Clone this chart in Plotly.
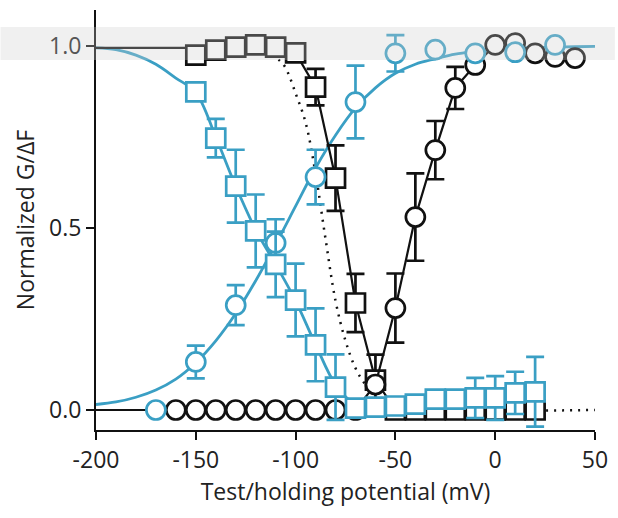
import plotly.graph_objects as go

# ---- measured points (mV, normalized) ----
blue_circ_v = [-170, -150, -130, -110, -90, -70, -50, -30, -10, 10, 30]
blue_circ_g = [0.0, 0.132, 0.288, 0.459, 0.64, 0.846, 0.98, 0.99, 0.98, 0.983, 1.003]
blue_circ_e = [0.0, 0.045, 0.055, 0.065, 0.075, 0.10, 0.05, 0.0, 0.0, 0.0, 0.0]

blue_sq_v = [-150, -140, -130, -120, -110, -100, -90, -80, -70, -60, -50, -40, -30, -20, -10, 0, 10, 20]
blue_sq_g = [0.874, 0.747, 0.615, 0.492, 0.40, 0.302, 0.179, 0.063, 0.005, 0.008, 0.011, 0.016,
             0.03, 0.03, 0.033, 0.033, 0.047, 0.05]
blue_sq_e = [0.0, 0.053, 0.10, 0.10, 0.09, 0.10, 0.10, 0.09, 0.0, 0.0, 0.0, 0.0,
             0.0, 0.0, 0.055, 0.06, 0.058, 0.096]

black_sq_v = [-150, -140, -130, -120, -110, -100, -90, -80, -70, -60, -50, -40, -30, -20, -10, 0, 10, 20]
black_sq_g = [0.975, 0.989, 0.997, 1.003, 0.997, 0.981, 0.887, 0.637, 0.294, 0.082,
              0.0, 0.0, 0.0, 0.0, 0.0, 0.0, 0.0, 0.0]
black_sq_e = [0.0, 0.0, 0.0, 0.0, 0.0, 0.0, 0.05, 0.09, 0.08, 0.07,
              0.0, 0.0, 0.0, 0.0, 0.0, 0.0, 0.0, 0.0]

black_circ_v = [-160, -150, -140, -130, -120, -110, -100, -90, -80, -70, -60, -50, -40, -30, -20,
                -10, 0, 10, 20, 30, 40]
black_circ_g = [0.0, 0.0, 0.0, 0.0, 0.0, 0.0, 0.0, 0.0, 0.0, 0.0, 0.07, 0.28, 0.53, 0.714, 0.885,
                0.948, 1.003, 1.008, 0.98, 0.97, 0.967]
black_circ_e = [0.0, 0.0, 0.0, 0.0, 0.0, 0.0, 0.0, 0.0, 0.0, 0.0, 0.0, 0.095, 0.12, 0.08, 0.058,
                0.0, 0.0, 0.0, 0.0, 0.0, 0.0]

# ---- fitted curves ----
blue_act_fit_v = [-200, -190, -180, -170, -160, -150, -140, -130, -120, -110, -100, -90, -80,
                  -70, -60, -50, -40, -30, -20, -10, 0, 10, 20, 30, 40, 50]
blue_act_fit_g = [0.015, 0.022, 0.035, 0.055, 0.085, 0.13, 0.19, 0.265, 0.355, 0.455, 0.56, 0.665,
                  0.755, 0.83, 0.885, 0.925, 0.95, 0.965, 0.978, 0.985, 0.99, 0.994, 0.996, 0.997,
                  0.998, 0.999]

blue_inact_fit_v = [-200, -190, -180, -170, -160, -150, -140, -130, -120, -110, -100, -90, -80,
                    -70, -60, -50, 20]
blue_inact_fit_g = [0.995, 0.99, 0.975, 0.95, 0.912, 0.872, 0.75, 0.615, 0.495, 0.40, 0.30, 0.18,
                    0.07, 0.015, 0.003, 0.0, 0.0]

black_inact_lead_v = [-200, -150]
black_inact_lead_g = [0.995, 0.995]
black_act_lead_v = [-200, -160]
black_act_lead_g = [0.0, 0.0]

dotted_v = [-112, -108, -105, -100, -95, -90, -85, -80, -75, -70, -65, -60, -55, -50,
            -45, -40, 50]
dotted_g = [0.975, 0.96, 0.94, 0.87, 0.79, 0.65, 0.47, 0.30, 0.19, 0.115, 0.07, 0.045,
            0.025, 0.012, 0.005, 0.0, 0.0]

x_ticks = [-200, -150, -100, -50, 0, 50]
x_tick_labels = ["-200", "-150", "-100", "-50", "0", "50"]
y_ticks = [0.0, 0.5, 1.0]
y_tick_labels = ["0.0", "0.5", "1.0"]

BLUE = "#3a9fc4"
BLACK = "#111111"
FONT = "Open Sans"
MSIZE = 19
LW = 2.7

fig = go.Figure()


def line(v, g, color, dash="solid", shape="linear", width=2.2):
    fig.add_trace(go.Scatter(x=v, y=g, mode="lines", hoverinfo="skip", showlegend=False,
                             line=dict(color=color, width=width, dash=dash, shape=shape)))


def points(v, g, e, color, symbol, with_line=False):
    fig.add_trace(go.Scatter(
        x=v, y=g, mode="lines+markers" if with_line else "markers", showlegend=False,
        line=dict(color=color, width=2.2),
        marker=dict(symbol=symbol, size=MSIZE, color="white", line=dict(color=color, width=LW)),
        error_y=dict(type="data", array=e, visible=True, color=color, thickness=LW, width=9),
    ))


line(dotted_v, dotted_g, BLACK, dash="2px,6px", shape="spline", width=2.5)
line(blue_act_fit_v, blue_act_fit_g, BLUE, shape="spline", width=2.8)
line(blue_inact_fit_v, blue_inact_fit_g, BLUE, shape="spline", width=2.8)
line(black_inact_lead_v, black_inact_lead_g, BLACK)
line(black_act_lead_v, black_act_lead_g, BLACK)

points(black_sq_v, black_sq_g, black_sq_e, BLACK, "square", with_line=True)
points(black_circ_v, black_circ_g, black_circ_e, BLACK, "circle", with_line=True)
points(blue_circ_v, blue_circ_g, blue_circ_e, BLUE, "circle")
points(blue_sq_v, blue_sq_g, blue_sq_e, BLUE, "square")

# light grey band across the top of the figure
plot_top, plot_bot = 10, 430
band_y0, band_y1 = 60, 27
fig.add_shape(type="rect", xref="paper", yref="paper", layer="above",
              x0=-96 / 502, x1=(618 - 96) / 502,
              y0=(plot_bot - band_y0) / (plot_bot - plot_top),
              y1=(plot_bot - band_y1) / (plot_bot - plot_top),
              line=dict(width=0), fillcolor="rgba(205,205,205,0.30)")

axis_common = dict(showline=True, linecolor=BLACK, linewidth=2, ticks="outside", ticklen=8,
                   tickwidth=2, tickcolor=BLACK, showgrid=False, zeroline=False,
                   tickfont=dict(family=FONT, size=23, color="#222"))

fig.update_layout(
    width=618, height=518,
    margin=dict(l=96, r=18, t=10, b=88),
    paper_bgcolor="white", plot_bgcolor="white",
    font=dict(family=FONT, color="#222"),
    xaxis=dict(range=[-200, 50], tickvals=x_ticks, ticktext=x_tick_labels,
               title=dict(text="Test/holding potential (mV)", font=dict(family=FONT, size=23),
                          standoff=6),
               **axis_common),
    yaxis=dict(range=[-0.055, 1.099], tickvals=y_ticks, ticktext=y_tick_labels,
               title=dict(text="Normalized G/ΔF", font=dict(family=FONT, size=23), standoff=8),
               **axis_common),
)

fig.write_html("out.html")
